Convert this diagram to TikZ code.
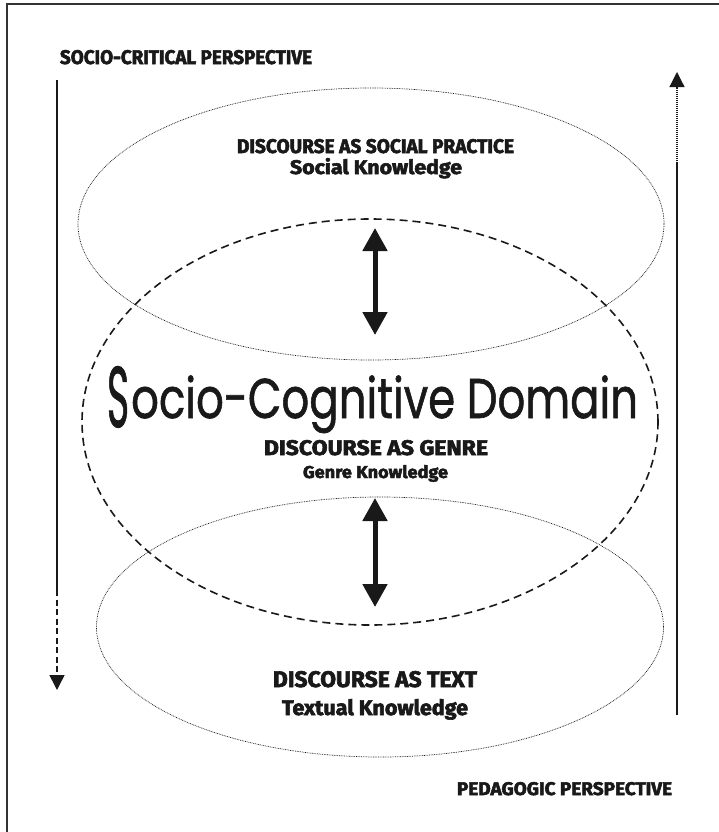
\documentclass[tikz,border=0pt]{standalone}
\usepackage{fontspec}
\usetikzlibrary{arrows.meta,shapes.geometric}
\newfontfamily\hdr{Fira Sans}[BoldFeatures={FakeBold=2.8}]
\newfontfamily\geo{Poppins}[FakeBold=1.2]
\newcommand{\fitt}[3]{\resizebox{#1}{#2}{\hdr\bfseries #3}}
\begin{document}
\begin{tikzpicture}[x=1bp,y=-1bp,
  frame/.style={line width=1.3bp, draw=black!80},
  dotell/.style={draw=black!90, line width=0.7bp, dash pattern=on 0.8bp off 0.9bp, ellipse, inner sep=0, outer sep=0},
  dashell/.style={draw=black!90, line width=1.6bp, dash pattern=on 8bp off 5bp, ellipse, inner sep=0, outer sep=0},
  dbl/.style={line width=5bp, draw=black!90, {Triangle[width=24bp,length=23bp]}-{Triangle[width=24bp,length=23bp]}},
  persp/.style={line width=1.8bp, draw=black!90},
  tipend/.style={-{Triangle[width=15bp,length=15bp]}},
  lbl/.style={anchor=base, inner sep=0, outer sep=0, text=black!90}
  ]
\useasboundingbox (0,0) rectangle (719,832);
% frame (top and left edges)
\coordinate (ftl) at (7,4);
\coordinate (ftr) at (719,4);
\coordinate (fbl) at (7,832);
\draw[frame] (ftr) -- (ftl) -- (fbl);

% ellipses
\node[dotell, minimum width=586bp, minimum height=272bp] (social) at (371,224) {};
\node[dotell, minimum width=567bp, minimum height=260bp] (textual) at (380,627) {};
\node[dashell, minimum width=576bp, minimum height=406bp] (genre) at (370,422) {};

% double arrows
\coordinate (u1) at (375,228);
\coordinate (u2) at (375,335);
\coordinate (l1) at (375,498);
\coordinate (l2) at (375,607);
\draw[dbl] (u1) -- (u2);
\draw[dbl] (l1) -- (l2);

% left (socio-critical) arrow
\coordinate (sa) at (57,80);
\coordinate (sb) at (57,590);
\coordinate (sc) at (57,690);
\draw[persp] (sa) -- (sb);
\draw[persp, line width=1.5bp, dash pattern=on 6bp off 3.5bp, tipend] (sb) -- (sc);

% right (pedagogic) arrow
\coordinate (pa) at (677,715);
\coordinate (pb) at (677,163);
\coordinate (pc) at (677,72);
\draw[persp] (pa) -- (pb);
\draw[persp, line width=1.2bp, dash pattern=on 1bp off 1bp, tipend] (pb) -- (pc);

% labels
\node[lbl] (scp) at (186,64) {\fitt{252bp}{14bp}{SOCIO-CRITICAL PERSPECTIVE}};
\node[lbl] (dsp) at (375.5,153) {\fitt{277bp}{14bp}{DISCOURSE AS SOCIAL PRACTICE}};
\node[lbl] (skn) at (376,174) {\fitt{172bp}{16bp}{Social Knowledge}};
\node[lbl, anchor=base west] (scd) at (107,418) {\geo\fontsize{54}{54}\selectfont\raisebox{-9bp}{\scalebox{0.7}[1.6]{S}}\hspace{2bp}\resizebox{507bp}{!}{\scalebox{0.8}[1.03]{ocio-Cognitive Domain}}};
\node[lbl] (dag) at (376,455) {\fitt{224bp}{15bp}{DISCOURSE AS GENRE}};
\node[lbl] (gkn) at (375.5,478) {\fitt{145bp}{13bp}{Genre Knowledge}};
\node[lbl] (dat) at (375,687) {\fitt{204bp}{16bp}{DISCOURSE AS TEXT}};
\node[lbl] (tkn) at (375,715) {\fitt{186bp}{16bp}{Textual Knowledge}};
\node[lbl] (ped) at (564.5,795) {\fitt{215bp}{13bp}{PEDAGOGIC PERSPECTIVE}};
\end{tikzpicture}
\end{document}
